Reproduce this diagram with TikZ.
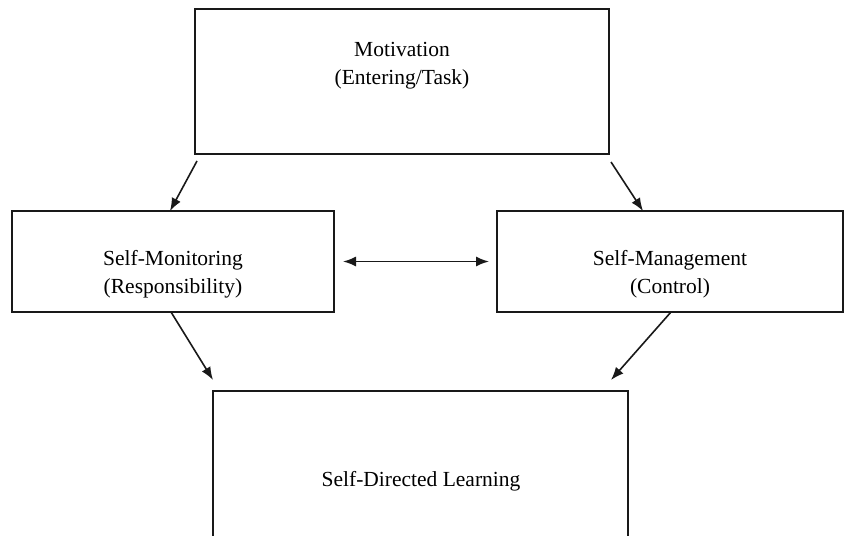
\documentclass[tikz,border=0pt]{standalone}
\usepackage{fontspec}
\setmainfont{Liberation Serif}
\usetikzlibrary{arrows.meta}
\begin{document}
\begin{tikzpicture}[x=1pt,y=-1pt,
  box/.style={draw=black!90,line width=1.6pt,inner sep=0pt,outer sep=0pt,rectangle},
  lbl/.style={align=center,inner sep=0pt,font=\fontsize{21.5}{28}\selectfont},
  tip/.tip={Latex[length=13pt,width=10pt]},
  arr/.style={line width=1.6pt,draw=black!90,-tip},
  darr/.style={line width=1.6pt,draw=black!90,tip-tip}]
\clip (0,0) rectangle (845,535);
% boxes
\node[box,minimum width=414,minimum height=145] (mot) at (402,81.5) {};
\node[box,minimum width=322,minimum height=101] (sm) at (173,261.5) {};
\node[box,minimum width=346,minimum height=101] (smg) at (670,261.5) {};
\node[box,minimum width=415,minimum height=170] (sdl) at (420.5,476) {};
% labels
\node[lbl] (motT) at (402,66) {Motivation\\(Entering/Task)};
\node[lbl] (smT) at (173,274) {Self-Monitoring\\(Responsibility)};
\node[lbl] (smgT) at (670,274) {Self-Management\\(Control)};
\node[lbl,anchor=base] (sdlT) at (421,486) {Self-Directed Learning};
% connectors
\draw[arr] ([shift={(2,7)}]mot.south west) -- ([xshift=158]sm.north west);
\draw[arr] ([shift={(2,8)}]mot.south east) -- ([xshift=146]smg.north west);
\draw[darr] ([xshift=9]sm.east) -- ([xshift=-8]smg.west);
\draw[arr] ([xshift=159]sm.south west) -- ([shift={(0,-11)}]sdl.north west);
\draw[arr] ([xshift=174]smg.south west) -- ([shift={(-17,-11)}]sdl.north east);
\end{tikzpicture}
\end{document}
